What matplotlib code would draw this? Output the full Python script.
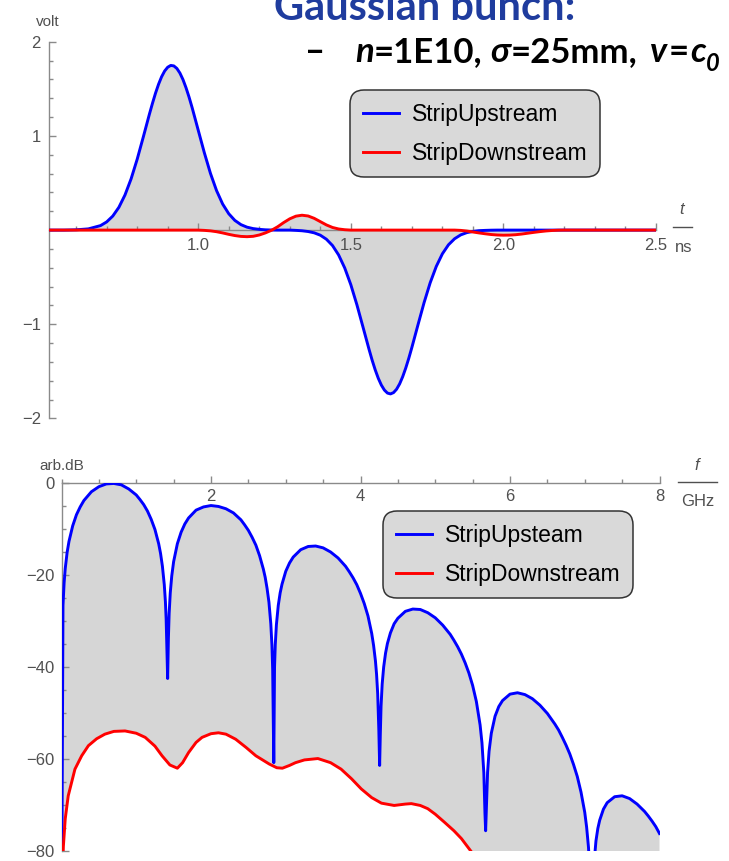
import matplotlib.pyplot as plt
from matplotlib.lines import Line2D
from matplotlib.ticker import MultipleLocator, FixedLocator, FormatStrFormatter

plt.rcParams["font.family"] = ["Liberation Sans", "DejaVu Sans"]

# %% time domain (ns / volt)
t_ns = [0.51, 0.56, 0.60, 0.64, 0.68,
        0.70, 0.72, 0.74, 0.76, 0.78, 0.80, 0.82, 0.84,
        0.85, 0.86, 0.87, 0.88, 0.89, 0.90, 0.91, 0.92, 0.93, 0.94, 0.95, 0.96, 0.97, 0.98,
        1.00, 1.02, 1.04, 1.06, 1.08, 1.10, 1.12, 1.14, 1.16, 1.18,
        1.20, 1.22, 1.24, 1.26, 1.28, 1.30, 1.32, 1.34, 1.36, 1.38,
        1.40, 1.42, 1.44, 1.46, 1.48, 1.50, 1.52, 1.54, 1.56,
        1.57, 1.58, 1.59, 1.60, 1.61, 1.62, 1.63, 1.64, 1.65, 1.66, 1.67, 1.68, 1.69,
        1.70, 1.72, 1.74, 1.76, 1.78, 1.80, 1.82, 1.84, 1.86, 1.88,
        1.90, 1.92, 1.94, 1.96, 1.98, 2.00, 2.02, 2.04, 2.06, 2.08,
        2.10, 2.12, 2.14, 2.16, 2.18, 2.20, 2.30, 2.40, 2.50]

up_volt = [0.0, 0.0, 0.003, 0.013, 0.048,
           0.087, 0.149, 0.242, 0.373, 0.544, 0.753, 0.989, 1.231,
           1.346, 1.454, 1.549, 1.629, 1.690, 1.730, 1.749, 1.744, 1.717, 1.668, 1.599, 1.512, 1.412, 1.301,
           1.061, 0.822, 0.603, 0.420, 0.277, 0.174, 0.103, 0.058, 0.031, 0.016,
           0.008, 0.003, 0.001, 0.0, 0.0, 0.0, -0.003, -0.007, -0.015, -0.029,
           -0.054, -0.097, -0.164, -0.264, -0.402, -0.580, -0.794, -1.031, -1.270,
           -1.383, -1.485, -1.574, -1.646, -1.699, -1.731, -1.740, -1.726, -1.690, -1.633, -1.557, -1.465, -1.361,
           -1.247, -1.007, -0.771, -0.560, -0.386, -0.252, -0.156, -0.092, -0.051, -0.027,
           -0.014, -0.006, -0.003, -0.001, 0.0, 0.0, 0.0, 0.0, 0.0, 0.0,
           0.0, 0.0, 0.0, 0.0, 0.0, 0.0, 0.0, 0.0, 0.0]

down_volt = [0.0, 0.0, 0.0, 0.0, 0.0,
             0.0, 0.0, 0.0, 0.0, 0.0, 0.0, 0.0, 0.0,
             0.0, 0.0, 0.0, 0.0, 0.0, 0.0, 0.0, 0.0, 0.0, 0.0, 0.0, 0.0, 0.0, 0.0,
             0.0, -0.003, -0.008, -0.017, -0.030, -0.045, -0.058, -0.067, -0.070, -0.066,
             -0.052, -0.030, -0.002, 0.035, 0.080, 0.120, 0.148, 0.158, 0.150, 0.125,
             0.090, 0.055, 0.028, 0.012, 0.004, 0.0, 0.0, 0.0, 0.0,
             0.0, 0.0, 0.0, 0.0, 0.0, 0.0, 0.0, 0.0, 0.0, 0.0, 0.0, 0.0, 0.0,
             0.0, 0.0, 0.0, 0.0, 0.0, 0.0, 0.0, 0.0, -0.003, -0.010,
             -0.020, -0.030, -0.039, -0.047, -0.052, -0.054, -0.053, -0.049, -0.042, -0.033,
             -0.024, -0.016, -0.009, -0.004, -0.001, 0.0, 0.0, 0.0, 0.0]

# %% spectrum (GHz / arb. dB)
f_up = [0.0, 0.02, 0.035, 0.05, 0.075, 0.1, 0.15, 0.2, 0.25, 0.3, 0.4, 0.5, 0.6, 0.7, 0.8, 0.9,
        1.0, 1.05, 1.1, 1.15, 1.2, 1.25, 1.3, 1.325, 1.35, 1.375, 1.39, 1.4, 1.41, 1.42, 1.43,
        1.44, 1.455, 1.475, 1.5, 1.55, 1.6, 1.65, 1.7, 1.8, 1.9,
        2.0, 2.1, 2.2, 2.3, 2.4, 2.45, 2.5, 2.55, 2.6, 2.65, 2.7, 2.725, 2.75, 2.775, 2.8,
        2.815, 2.825, 2.84, 2.85, 2.86, 2.875, 2.9, 2.925, 2.95,
        3.0, 3.05, 3.1, 3.2, 3.3, 3.4, 3.5, 3.6, 3.7, 3.8, 3.85, 3.9, 3.95,
        4.0, 4.05, 4.1, 4.15, 4.175, 4.2, 4.215, 4.23, 4.245, 4.256, 4.265, 4.275, 4.29,
        4.31, 4.335, 4.36, 4.4, 4.45, 4.5, 4.6, 4.7, 4.8, 4.9,
        5.0, 5.1, 5.2, 5.25, 5.3, 5.35, 5.4, 5.45, 5.5, 5.55, 5.6, 5.625, 5.65, 5.665,
        5.674, 5.685, 5.7, 5.72, 5.75, 5.8, 5.85, 5.9,
        6.0, 6.1, 6.2, 6.3, 6.4, 6.5, 6.6, 6.65, 6.7, 6.75, 6.8, 6.85, 6.9, 6.95,
        7.0, 7.025, 7.05, 7.07, 7.09, 7.11, 7.13, 7.15, 7.175, 7.2, 7.25, 7.3, 7.4, 7.5,
        7.6, 7.7, 7.8, 7.85, 7.9, 7.95, 8.0]

up_db = [-100, -26.6, -21.7, -18.6, -15.1, -12.7, -9.3, -6.9, -5.2, -3.8, -1.9, -0.8, -0.2, -0.1, -0.4, -1.3,
         -2.6, -3.6, -4.7, -6.1, -7.9, -10.1, -13.2, -15.3, -18.1, -22.1, -25.8, -29.6, -36.4, -42.5, -33.8,
         -28.4, -23.9, -20.2, -17.1, -13.2, -10.7, -8.9, -7.6, -5.9, -5.2,
         -4.9, -5.1, -5.6, -6.5, -8.0, -9.1, -10.3, -11.8, -13.5, -15.8, -18.7, -20.5, -22.9, -25.9, -30.6,
         -35.2, -40.5, -60.8, -40.0, -35.1, -30.8, -26.6, -23.9, -22.0,
         -19.2, -17.4, -16.1, -14.5, -13.8, -13.7, -14.1, -15.0, -16.3, -18.1, -19.3, -20.6, -22.1,
         -24.0, -26.2, -28.9, -32.7, -35.3, -38.7, -41.6, -45.8, -53.6, -61.4, -54.7, -48.5, -43.7,
         -40.0, -37.0, -34.9, -32.6, -30.6, -29.4, -27.9, -27.4, -27.5, -28.2,
         -29.3, -30.9, -32.9, -34.2, -35.6, -37.2, -39.1, -41.3, -44.0, -47.5, -52.6, -56.5, -63.0, -71.8,
         -75.6, -70.2, -62.9, -58.3, -54.4, -50.7, -48.6, -47.3,
         -45.9, -45.6, -46.0, -46.9, -48.3, -50.1, -52.4, -53.7, -55.3, -57.0, -58.9, -61.2, -63.8, -67.2,
         -71.6, -74.8, -79.2, -85.1, -100, -87.9, -81.6, -77.8, -75.1, -73.3, -70.9, -69.5, -68.2, -68.0,
         -68.6, -69.8, -71.4, -72.4, -73.5, -74.7, -76.2]

f_down = [0.0, 0.01, 0.025, 0.05, 0.09, 0.18, 0.27, 0.36, 0.47, 0.58, 0.7, 0.85, 1.0,
          1.12, 1.25, 1.345, 1.45, 1.55, 1.62, 1.7, 1.8, 1.88, 2.0, 2.1, 2.2, 2.33,
          2.47, 2.6, 2.78, 2.88, 2.955, 3.05, 3.13, 3.25, 3.43, 3.6, 3.74, 3.88, 4.01,
          4.15, 4.28, 4.45, 4.6, 4.68, 4.8, 4.9, 5.0, 5.12, 5.25, 5.35, 5.48, 5.6,
          5.8, 6.0, 6.5, 7.0, 7.5, 8.0]

down_db = [-100, -87, -79, -73, -68, -62.2, -59.3, -57.1, -55.6, -54.6, -54.0, -53.9, -54.4,
           -55.3, -57.2, -59.3, -61.3, -62.0, -60.8, -58.6, -56.4, -55.3, -54.5, -54.3, -54.6, -55.7,
           -57.5, -59.3, -61.1, -61.9, -62.0, -61.4, -60.8, -60.2, -59.9, -60.8, -62.2, -64.3, -66.5,
           -68.4, -69.6, -70.1, -69.8, -69.7, -70.1, -70.8, -72.0, -73.7, -75.6, -77.3, -80.1, -83,
           -88, -93, -100, -108, -116, -124]

W, H = 729, 861
AXIS = "#8a8a8a"
LABEL = "#505050"
FILL = "#d6d6d6"
HEAD = ["Lato", "DejaVu Sans"]


def fx(x):
    return x / W


def fy(y):
    return 1 - y / H


def box(x0, y0, x1, y1):
    return [x0 / W, 1 - y1 / H, (x1 - x0) / W, (y1 - y0) / H]


def style(ax):
    for s in ["top", "right"]:
        ax.spines[s].set_visible(False)
    for s in ["left", "bottom"]:
        ax.spines[s].set_color(AXIS)
        ax.spines[s].set_linewidth(1.0)
    ax.spines["bottom"].set_position(("data", 0))
    ax.tick_params(which="both", direction="in", color=AXIS, width=1.0,
                   labelcolor=LABEL, labelsize=12)
    ax.tick_params(which="major", length=5)
    ax.tick_params(which="minor", length=3.2)
    ax.patch.set_alpha(0)


def legend(ax, handles, x, y):
    leg = ax.legend(handles=handles, loc="upper left", bbox_to_anchor=(fx(x), fy(y)),
                    bbox_transform=fig.transFigure, borderaxespad=0, fontsize=16.5,
                    handlelength=1.6, handletextpad=0.55, labelspacing=0.7,
                    borderpad=0.55, fancybox=True, framealpha=1)
    frame = leg.get_frame()
    frame.set_facecolor("#d9d9d9")
    frame.set_edgecolor("#333333")
    frame.set_linewidth(1.1)
    frame.set_boxstyle("round,pad=0,rounding_size=0.6")
    return leg


fig = plt.figure(figsize=(W / 100, H / 100), dpi=100)

# %% top: pickup voltages
ax1 = fig.add_axes(box(49.3, 41.8, 656, 418.4))
ax1.fill_between(t_ns, up_volt, 0, color=FILL, lw=0, zorder=1)
ax1.fill_between(t_ns, down_volt, 0, color=FILL, lw=0, zorder=1)
l1, = ax1.plot(t_ns, up_volt, color="blue", lw=2.1, label="StripUpstream", zorder=3)
l2, = ax1.plot(t_ns, down_volt, color="red", lw=2.1, label="StripDownstream", zorder=4)
ax1.set_xlim(0.512, 2.5)
ax1.set_ylim(-2, 2)
style(ax1)
ax1.xaxis.set_major_locator(FixedLocator([1.0, 1.5, 2.0, 2.5]))
ax1.xaxis.set_major_formatter(FormatStrFormatter("%.1f"))
ax1.xaxis.set_minor_locator(MultipleLocator(0.1))
ax1.yaxis.set_major_locator(FixedLocator([-2, -1, 1, 2]))
ax1.yaxis.set_minor_locator(MultipleLocator(0.2))
ax1.tick_params(axis="x", pad=6)
ax1.tick_params(axis="y", pad=6)
legend(ax1, [l1, l2], 350, 90)

fig.text(fx(48), fy(22), "volt", color=LABEL, fontsize=11, ha="center", va="center")
fig.text(fx(682), fy(210), "t", color=LABEL, fontsize=12, style="italic", ha="center", va="center")
fig.add_artist(Line2D([fx(673), fx(692)], [fy(226.5), fy(226.5)], color=LABEL, lw=1))
fig.text(fx(684), fy(247), "ns", color=LABEL, fontsize=12, ha="center", va="center")

# %% bottom: spectra
ax2 = fig.add_axes(box(61.5, 483, 659.5, 851))
ax2.fill(f_up + f_down[::-1], up_db + down_db[::-1], color=FILL, lw=0, zorder=1)
b1, = ax2.plot(f_up, up_db, color="blue", lw=2.1, label="StripUpsteam", zorder=3)
b2, = ax2.plot(f_down, down_db, color="red", lw=2.1, label="StripDownstream", zorder=4)
ax2.set_xlim(0, 8)
ax2.set_ylim(-80, 0)
style(ax2)
ax2.xaxis.set_major_locator(FixedLocator([2, 4, 6, 8]))
ax2.xaxis.set_minor_locator(MultipleLocator(0.5))
ax2.yaxis.set_major_locator(FixedLocator([0, -20, -40, -60, -80]))
ax2.yaxis.set_minor_locator(MultipleLocator(5))
ax2.tick_params(axis="x", pad=4)
ax2.tick_params(axis="y", pad=5)
legend(ax2, [b1, b2], 383, 511)

fig.text(fx(61.5), fy(466), "arb.dB", color=LABEL, fontsize=11, ha="center", va="center")
fig.text(fx(697), fy(466), "f", color=LABEL, fontsize=12, style="italic", ha="center", va="center")
fig.add_artist(Line2D([fx(678), fx(717)], [fy(482.5), fy(482.5)], color=LABEL, lw=1))
fig.text(fx(698), fy(501), "GHz", color=LABEL, fontsize=12, ha="center", va="center")

# %% slide text, cut off at the top and right as in the source
fig.text(fx(274), fy(20), "Gaussian bunch:", family=HEAD, weight="bold",
         color="#1f3c9e", fontsize=30, ha="left", va="baseline")
fig.text(fx(305), fy(68), "\u2013", family=HEAD, weight="bold", fontsize=25, va="bottom")

prev = fig.text(fx(355), fy(68), "n", family=HEAD, weight="bold", style="italic",
                fontsize=25, ha="left", va="bottom")
pieces = [("=1E10,", "normal", 0), ("\u03c3", "italic", 6), ("=25mm,", "normal", 0),
          ("v", "italic", 9), ("=", "normal", 1), ("c", "italic", 1)]
for s, st, gap in pieces:
    prev = ax2.annotate(s, xy=(1, 0), xycoords=prev, xytext=(gap, 0),
                        textcoords="offset points", family=HEAD, weight="bold",
                        style=st, fontsize=25, ha="left", va="bottom",
                        annotation_clip=False)
ax2.annotate("0", xy=(1, 0), xycoords=prev, xytext=(0, -5), textcoords="offset points",
             family=HEAD, weight="bold", style="italic", fontsize=17, ha="left",
             va="bottom", annotation_clip=False)

fig.savefig("out.png", dpi=100)
